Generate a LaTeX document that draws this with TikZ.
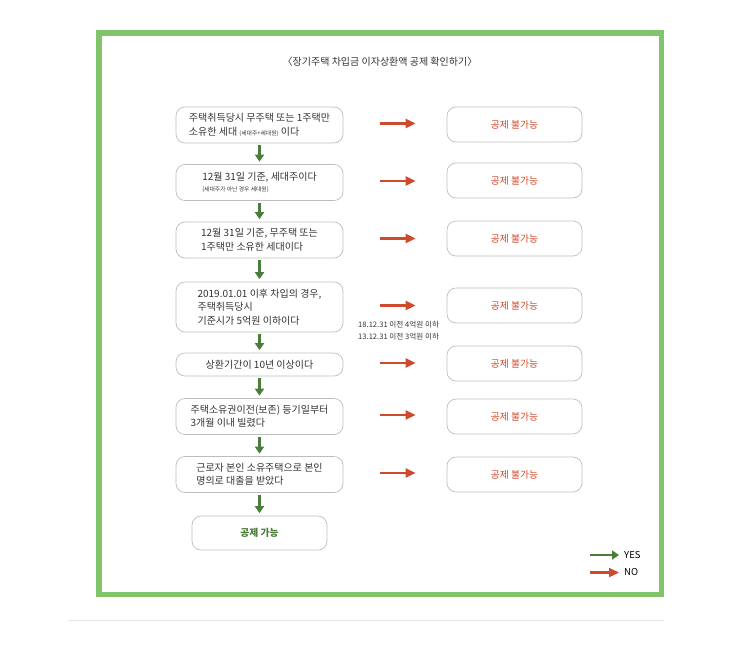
\documentclass[tikz,border=0pt]{standalone}
\usepackage{fontspec}
\setmainfont{Noto Sans CJK KR}
\usetikzlibrary{arrows.meta, positioning}
\definecolor{framegreen}{HTML}{80C46C}
\definecolor{yesgreen}{HTML}{4A7D3A}
\definecolor{nored}{HTML}{CF4A2C}
\definecolor{boxgray}{HTML}{BDBDBD}
\definecolor{txtgray}{HTML}{333333}
\tikzset{
  cond/.style={rectangle, draw=boxgray, rounded corners=9pt, line width=0.7pt,
               minimum width=167pt, minimum height=36pt, inner sep=0pt,
               align=left, text=txtgray, font=\fontsize{10}{13.5}\selectfont},
  deny/.style={rectangle, draw=boxgray, rounded corners=9pt, line width=0.7pt,
               minimum width=135pt, minimum height=35pt, inner sep=0pt,
               text=nored, font=\fontsize{9.8}{11}\selectfont},
  okbox/.style={deny, minimum height=34pt, text=yesgreen,
                font=\fontsize{9.8}{11}\selectfont\bfseries},
  yes/.style={-{Triangle[length=7pt, width=9pt]}, yesgreen, line width=2.2pt},
  no/.style={-{Triangle[length=10pt, width=9pt]}, nored, line width=2.2pt},
  memo/.style={font=\fontsize{7.6}{12}\selectfont, text=txtgray, align=left, inner sep=0pt}
}
\newcommand{\smallnote}[1]{{\fontsize{5.8}{7}\selectfont #1}}

\begin{document}
\begin{tikzpicture}[x=1pt, y=-1pt]
  \useasboundingbox (0,0) rectangle (751,648);
  \draw[framegreen, line width=5.5pt] (98.75,32.75) rectangle (661.25,594.25);
  \draw[gray!20, line width=0.8pt] (68,620) -- (664,620);

  \node[font=\fontsize{10}{12}\selectfont, text=txtgray] (title) at (380,62)
    {〈장기주택 차입금 이자상환액 공제 확인하기〉};

  % conditions
  \node[cond] (q1) at (259.5,125) {주택취득당시 무주택 또는 1주택만\\소유한 세대 \smallnote{(세대주+세대원)} 이다};
  \node[cond] (q2) at (259.5,182.5) {12월 31일 기준, 세대주이다\\[-3pt]\smallnote{(세대주가 아닌 경우 세대원)}};
  \node[cond] (q3) at (259.5,240) {12월 31일 기준, 무주택 또는\\1주택만 소유한 세대이다};
  \node[cond, minimum height=50pt] (q4) at (259.5,307) {2019.01.01 이후 차입의 경우,\\주택취득당시\\기준시가 5억원 이하이다};
  \node[cond, minimum height=23pt] (q5) at (259.5,364.5) {상환기간이 10년 이상이다};
  \node[cond] (q6) at (259.5,416.5) {주택소유권이전(보존) 등기일부터\\3개월 이내 빌렸다};
  \node[cond] (q7) at (259.5,474.5) {근로자 본인 소유주택으로 본인\\명의로 대출을 받았다};
  \node[okbox] (ok) at (259.5,533) {공제 가능};

  % results
  \node[deny] (n1) at (514.5,124.5) {공제 불가능};
  \node[deny] (n2) at (514.5,180.5) {공제 불가능};
  \node[deny] (n3) at (514.5,238.5) {공제 불가능};
  \node[deny] (n4) at (514.5,305.5) {공제 불가능};
  \node[deny] (n5) at (514.5,363.5) {공제 불가능};
  \node[deny] (n6) at (514.5,416.5) {공제 불가능};
  \node[deny] (n7) at (514.5,474.5) {공제 불가능};

  \node[memo, anchor=north west] (limit) at (358,321) {18.12.31 이전 4억원 이하\\13.12.31 이전 3억원 이하};

  \foreach \a/\b in {q1/q2, q2/q3, q3/q4, q4/q5, q5/q6, q6/q7, q7/ok}
    \draw[yes, shorten <=2pt, shorten >=2.5pt] (\a.south) -- (\b.north);
  \foreach \i in {1,...,7}
    \draw[no, shorten <=37pt, shorten >=31pt] ([yshift=1.5pt]q\i.east) -- ([yshift=1.5pt]q\i.east -| n\i.west);

  % legend
  \node[font=\fontsize{9.5}{11}\selectfont, text=black, anchor=west, inner sep=0pt] (lyes) at (624,555) {YES};
  \node[font=\fontsize{9.5}{11}\selectfont, text=black, anchor=west, inner sep=0pt] (lno) at (624,572.5) {NO};
  \coordinate (yesstart) at (590,555);
  \coordinate (nostart) at (590,572.5);
  \draw[yes] (yesstart) -- ([xshift=-5pt]lyes.west);
  \draw[no] (nostart) -- ([xshift=-5pt]lno.west |- nostart);
\end{tikzpicture}
\end{document}
